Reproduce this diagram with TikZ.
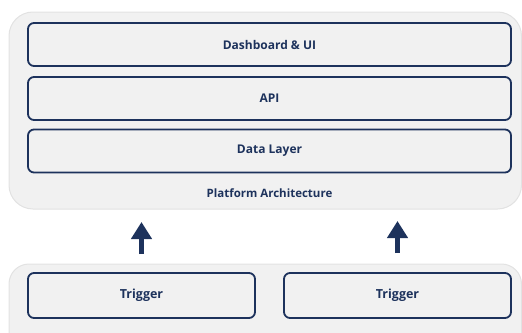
\documentclass[tikz,border=0pt]{standalone}
\usepackage{fontspec}
\setmainfont{Open Sans}
\usetikzlibrary{arrows.meta}
\definecolor{navy}{HTML}{1D325C}
\definecolor{panel}{HTML}{F1F1F1}
\definecolor{panelline}{HTML}{E2E2E2}
\tikzset{
  container/.style={fill=panel, draw=panelline, line width=1pt, rounded corners=24pt},
  layerbox/.style={draw=navy, fill=panel, line width=1.8pt, rounded corners=6pt,
    minimum width=483pt, minimum height=43pt, inner sep=0pt,
    font=\fontsize{12}{14}\selectfont\bfseries, text=navy},
  triggerbox/.style={draw=navy, fill=panel, line width=1.8pt, rounded corners=6pt,
    minimum width=227pt, minimum height=45pt, inner sep=0pt,
    font=\fontsize{12.5}{14}\selectfont\bfseries, text=navy},
  caption/.style={font=\fontsize{11.5}{13}\selectfont\bfseries, text=navy},
  uparrow/.style={draw=navy, line width=5pt, -{Triangle[width=20pt,length=17pt]}}
}
\begin{document}
\begin{tikzpicture}[x=1pt, y=-1pt]
  \useasboundingbox (0,0) rectangle (522,332);
  % platform panel and trigger panel
  \draw[container] (9,12) rectangle (521.5,209);
  \draw[container, rounded corners=20pt] (9,264) rectangle (521.5,360);
  % architecture layers
  \node[layerbox] (ui)   at (269.5,44.5)  {Dashboard \& UI};
  \node[layerbox] (api)  at (269.5,98.5)  {API};
  \node[layerbox] (data) at (269.5,151)   {Data Layer};
  \node[caption]  (plat) at (269.5,193)   {Platform Architecture};
  % triggers
  \node[triggerbox] (t1) at (141.5,295.5) {Trigger};
  \node[triggerbox] (t2) at (397.5,295.5) {Trigger};
  % flow arrows
  \coordinate (a1) at (141.5,222);
  \coordinate (a2) at (397.5,221);
  \draw[uparrow] (t1.north |- 0,254) -- (a1);
  \draw[uparrow] (t2.north |- 0,253) -- (a2);
\end{tikzpicture}
\end{document}
